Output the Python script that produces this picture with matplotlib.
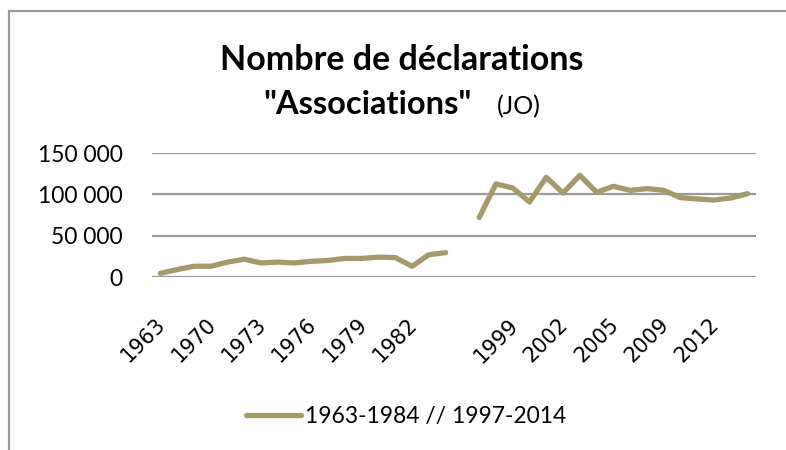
import numpy as np
import matplotlib
matplotlib.use("Agg")
import matplotlib.pyplot as plt
import matplotlib.transforms as mtransforms
from matplotlib.patches import Rectangle
from matplotlib.lines import Line2D

# Years on the category axis ('' marks the break between the two periods)
years = ["1963", "1966", "1968", "1970", "1971", "1972", "1973", "1974", "1975",
         "1976", "1977", "1978", "1979", "1980", "1981", "1982", "1983", "1984",
         "",
         "1997", "1998", "1999", "2000", "2001", "2002", "2003", "2004", "2005",
         "2006", "2007", "2009", "2010", "2011", "2012", "2013", "2014"]

# Number of declarations published in the Journal Officiel
declarations = [4500, 9000, 13000, 13000, 18000, 21500, 17000, 18000, 17000,
                19000, 20000, 22500, 22500, 24000, 23500, 13000, 27000, 29500,
                np.nan,
                72000, 112500, 107700, 90700, 120600, 101600, 123000, 102400, 109700,
                104800, 106900, 104800, 96000, 94400, 93100, 95600, 100800]

yticks = [0, 50000, 100000, 150000]
ytick_labels = ["0", "50 000", "100 000", "150 000"]
series_label = "1963-1984 // 1997-2014"

W, H = 786, 450
fig = plt.figure(figsize=(W / 100, H / 100), dpi=100)
fig.patch.set_facecolor("white")

line_color = "#A59A6B"
grid_color = "#9A9A9A"

ax = fig.add_axes([152 / W, 1 - 277 / H, (756 - 152) / W, (277 - 153) / H])
x = np.arange(len(years))
ax.plot(x, declarations, color=line_color, lw=3.8, solid_capstyle="round",
        solid_joinstyle="round", zorder=3)

ax.set_xlim(-0.5, len(years) - 0.5)
ax.set_ylim(0, 150000)
ax.set_yticks(yticks)
ax.set_yticklabels(ytick_labels, fontfamily="Lato", fontsize=16.5)
ax.yaxis.grid(True, color=grid_color, lw=1.6, zorder=1)
ax.tick_params(axis="y", length=0, pad=21)

tick_pos = x[::3]
ax.set_xticks(tick_pos)
ax.set_xticklabels([years[i] for i in tick_pos], rotation=45, ha="right",
                   va="top", rotation_mode="anchor",
                   fontfamily="DejaVu Sans", fontsize=15)
ax.tick_params(axis="x", length=0, pad=27)
shift = mtransforms.ScaledTranslation(-5 / 100, 0, fig.dpi_scale_trans)
for lbl in ax.get_xticklabels():
    lbl.set_transform(lbl.get_transform() + shift)
for s in ax.spines.values():
    s.set_visible(False)

# Title: two centred lines, second mixes bold and regular text
fig.text(402 / W, 1 - 70 / H, "Nombre de déclarations", ha="center",
         va="baseline", fontfamily="Lato", fontweight="bold", fontsize=24.5)
fig.text(472 / W, 1 - 114 / H, "\"Associations\"", ha="right", va="baseline",
         fontfamily="Lato", fontweight="bold", fontsize=23.5)
fig.text(497 / W, 1 - 114 / H, "(JO)", ha="left", va="baseline",
         fontfamily="Lato", fontsize=18)

# Legend
handle = Line2D([], [], color=line_color, lw=3.8, solid_capstyle="round")
fig.legend([handle], [series_label], loc="center", bbox_to_anchor=(406 / W, 1 - 417 / H),
           frameon=False, prop={"family": "Lato", "size": 16.5},
           handlelength=2.4, handletextpad=0.15)

# Chart frame
fig.patches.append(Rectangle((9 / W, -0.2), 1.2, 1 - 11 / H + 0.2,
                             transform=fig.transFigure, fill=False,
                             edgecolor="#9A9A9A", lw=1.6))

fig.savefig("out.png", dpi=100)
